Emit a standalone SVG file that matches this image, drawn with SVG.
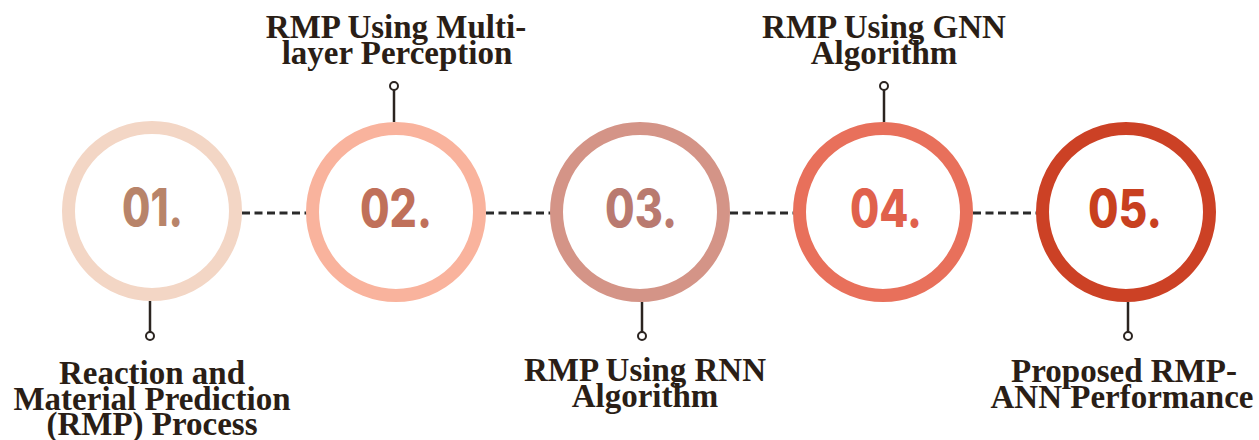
<svg xmlns="http://www.w3.org/2000/svg" width="1259" height="440" viewBox="0 0 1259 440">
<style>
.ring{fill:#ffffff;stroke-width:13}
.num{font-family:Inter,"Open Sans","Liberation Sans",sans-serif;font-weight:800;font-size:52px;text-anchor:middle}
.lbl{font-family:"Liberation Serif","Times New Roman",serif;font-weight:bold;font-size:33px;fill:#2a1e16;text-anchor:middle}
.dash{stroke:#2a2a2a;stroke-width:3;stroke-dasharray:8 4.5;fill:none}
.stem{stroke:#2b2420;stroke-width:2.5;fill:none}
.dot{stroke:#2b2420;stroke-width:2;fill:#ffffff}
</style>
<rect width="1259" height="440" fill="#ffffff"/>
<g id="connectors">
<line class="dash" x1="242" y1="213" x2="307" y2="213"/>
<line class="dash" x1="486" y1="213" x2="551" y2="213"/>
<line class="dash" x1="730" y1="213" x2="794" y2="213"/>
<line class="dash" x1="973" y1="213" x2="1038" y2="213"/>
</g>
<g id="node1">
<circle class="ring" cx="152" cy="211" r="83.5" stroke="#f3d6c5"/>
<text class="num" x="152.5" y="226" fill="#b8846a" textLength="61" lengthAdjust="spacingAndGlyphs">01.</text>
<line class="stem" x1="150" y1="301" x2="150" y2="332"/>
<circle class="dot" cx="150" cy="336" r="4"/>
<text class="lbl" x="152" y="384">Reaction and</text>
<text class="lbl" x="152" y="410">Material Prediction</text>
<text class="lbl" x="152" y="435">(RMP) Process</text>
</g>
<g id="node2">
<circle class="ring" cx="396" cy="212" r="83.5" stroke="#f9b39d"/>
<text class="num" x="396" y="227" fill="#c0705a" textLength="72" lengthAdjust="spacingAndGlyphs">02.</text>
<line class="stem" x1="394" y1="122" x2="394" y2="90"/>
<circle class="dot" cx="394" cy="86" r="4"/>
<text class="lbl" x="396" y="38">RMP Using Multi-</text>
<text class="lbl" x="397" y="64">layer Perception</text>
</g>
<g id="node3">
<circle class="ring" cx="640" cy="212" r="83.5" stroke="#d49487"/>
<text class="num" x="641" y="227" fill="#b97a70" textLength="72" lengthAdjust="spacingAndGlyphs">03.</text>
<line class="stem" x1="642" y1="302" x2="642" y2="332"/>
<circle class="dot" cx="642" cy="336" r="4"/>
<text class="lbl" x="645" y="381">RMP Using RNN</text>
<text class="lbl" x="645" y="407">Algorithm</text>
</g>
<g id="node4">
<circle class="ring" cx="883" cy="212" r="83.5" stroke="#e8705b"/>
<text class="num" x="886" y="227" fill="#e0614c" textLength="72" lengthAdjust="spacingAndGlyphs">04.</text>
<line class="stem" x1="884" y1="122" x2="884" y2="90"/>
<circle class="dot" cx="884" cy="86" r="4"/>
<text class="lbl" x="884" y="38">RMP Using GNN</text>
<text class="lbl" x="884" y="64">Algorithm</text>
</g>
<g id="node5">
<circle class="ring" cx="1126" cy="212" r="83.5" stroke="#cc4125"/>
<text class="num" x="1125" y="227" fill="#c8401f" textLength="74" lengthAdjust="spacingAndGlyphs">05.</text>
<line class="stem" x1="1128" y1="302" x2="1128" y2="332"/>
<circle class="dot" cx="1128" cy="336" r="4"/>
<text class="lbl" x="1124" y="382">Proposed RMP-</text>
<text class="lbl" x="1122" y="408">ANN Performance</text>
</g>
</svg>
